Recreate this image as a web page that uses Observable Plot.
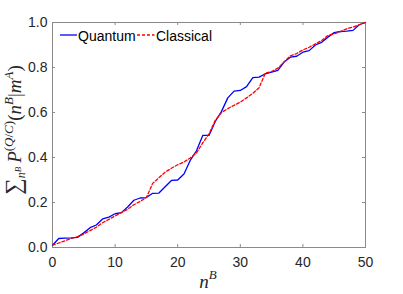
<!DOCTYPE html>
<html><head><meta charset="utf-8">
<script src="https://cdn.jsdelivr.net/npm/d3@7"></script>
<script src="https://cdn.jsdelivr.net/npm/@observablehq/plot@0.6"></script>
<style>html,body{margin:0;padding:0;background:#fff} svg{display:block}</style>
</head><body><div id="chart"></div>
<script>
const nB = [0,1,2,3,4,5,6,7,8,9,10,11,12,13,14,15,16,17,18,19,20,21,22,23,24,25,26,27,28,29,30,31,32,33,34,35,36,37,38,39,40,41,42,43,44,45,46,47,48,49,50];
const quantum = [0.01,0.04,0.042,0.043,0.045,0.065,0.088,0.1,0.127,0.135,0.15,0.155,0.18,0.21,0.22,0.222,0.241,0.242,0.27,0.298,0.30,0.327,0.387,0.43,0.498,0.498,0.56,0.605,0.665,0.695,0.698,0.715,0.755,0.757,0.772,0.779,0.787,0.824,0.846,0.85,0.868,0.875,0.9,0.912,0.935,0.955,0.96,0.962,0.965,0.99,1.0];
const classical = [0.01,0.02,0.03,0.04,0.048,0.06,0.075,0.09,0.11,0.125,0.14,0.155,0.17,0.19,0.205,0.222,0.285,0.31,0.335,0.352,0.368,0.38,0.398,0.42,0.465,0.505,0.565,0.6,0.617,0.632,0.646,0.665,0.685,0.71,0.775,0.782,0.797,0.825,0.852,0.862,0.878,0.89,0.905,0.92,0.942,0.95,0.96,0.972,0.98,0.99,1.0];
const xTicks = [0,10,20,30,40,50];
const yTicks = [0,0.2,0.4,0.6,0.8,1.0];
const seriesNames = ["Quantum","Classical"];
const seriesColors = ["#0000ff","#ff0000"];

const W = 403, H = 294, mL = 52, mR = 38, mT = 22, mB = 47;
const pw = W - mL - mR, ph = H - mT - mB;
const rowsQ = nB.map((n,i)=>({n, v: quantum[i]}));
const rowsC = nB.map((n,i)=>({n, v: classical[i]}));
const tl = 3;

const chart = Plot.plot({
  width: W, height: H,
  marginLeft: mL, marginRight: mR, marginTop: mT, marginBottom: mB,
  style: {fontFamily: "'Liberation Sans', Arial, sans-serif", fontSize: "14px", color: "#262626", background: "#fff"},
  x: {domain: [0,50], label: null},
  y: {domain: [0,1], label: null},
  marks: [
    Plot.frame({stroke: "#8a8a8a", strokeWidth: 1}),
    Plot.tickX(xTicks, {x: d=>d, insetTop: ph - tl, stroke: "#8a8a8a"}),
    Plot.tickX(xTicks, {x: d=>d, insetBottom: ph - tl, stroke: "#8a8a8a"}),
    Plot.tickY(yTicks, {y: d=>d, insetRight: pw - tl, stroke: "#8a8a8a"}),
    Plot.tickY(yTicks, {y: d=>d, insetLeft: pw - tl, stroke: "#8a8a8a"}),
    Plot.axisX(xTicks, {tickSize: 0, tickPadding: 10, label: null, fill: "#262626", fontSize: 14}),
    Plot.axisY(yTicks, {tickSize: 0, tickPadding: 5, tickFormat: ".1f", label: null, fill: "#262626", fontSize: 14}),
    Plot.line(rowsQ, {x: "n", y: "v", stroke: seriesColors[0], strokeWidth: 1.3}),
    Plot.line(rowsC, {x: "n", y: "v", stroke: seriesColors[1], strokeWidth: 1.3, strokeDasharray: "3,2"})
  ]
});
document.getElementById("chart").appendChild(chart);

const svg = d3.select(chart);
// legend
const leg = svg.append("g").attr("font-family", "'Liberation Sans', Arial, sans-serif").attr("font-size", 14)
  .attr("fill", "#000").attr("text-anchor", "start");
const legPos = [{x0: 60, x1: 77, tx: 78}, {x0: 137, x1: 154.5, tx: 156}];
seriesNames.forEach((name, i) => {
  const p = legPos[i];
  leg.append("line").attr("x1", p.x0).attr("x2", p.x1).attr("y1", 35).attr("y2", 35)
    .attr("stroke", seriesColors[i]).attr("stroke-width", 1.3)
    .attr("stroke-dasharray", i === 1 ? "3,2" : null);
  leg.append("text").attr("x", p.tx).attr("y", 40.5).attr("text-anchor", "start").text(name);
});

// x label
const xl = svg.append("text").attr("x", 208).attr("y", 288).attr("text-anchor", "middle")
  .attr("font-family", "'Liberation Serif', 'Times New Roman', serif").attr("fill", "#262626");
xl.append("tspan").attr("font-size", 19).attr("font-style", "italic").text("n");
xl.append("tspan").attr("font-size", 13).attr("font-style", "italic").attr("dy", -9).text("B");

// y label
const yl = svg.append("text").attr("transform", "translate(21,130) rotate(-90)").attr("text-anchor", "middle")
  .attr("font-family", "'Liberation Serif', 'Times New Roman', serif").attr("font-size", 19).attr("fill", "#262626");
yl.append("tspan").attr("font-size", 23).text("∑");
yl.append("tspan").attr("font-size", 12).attr("font-style", "italic").attr("dy", 4).text("n");
yl.append("tspan").attr("font-size", 9).attr("font-style", "italic").attr("dy", -4).text("B");
yl.append("tspan").attr("font-style", "italic").attr("dx", 4).text("P");
yl.append("tspan").attr("font-size", 13).attr("dy", -8).text("(");
yl.append("tspan").attr("font-size", 13).attr("font-style", "italic").text("Q");
yl.append("tspan").attr("font-size", 13).text("/");
yl.append("tspan").attr("font-size", 13).attr("font-style", "italic").text("C");
yl.append("tspan").attr("font-size", 13).text(")");
yl.append("tspan").attr("dy", 8).text("(");
yl.append("tspan").attr("font-style", "italic").text("n");
yl.append("tspan").attr("font-size", 13).attr("font-style", "italic").attr("dy", -8).text("B");
yl.append("tspan").attr("dy", 8).text("|");
yl.append("tspan").attr("font-style", "italic").text("m");
yl.append("tspan").attr("font-size", 13).attr("font-style", "italic").attr("dy", -8).text("A");
yl.append("tspan").attr("dy", 8).text(")");
</script>
</body></html>
